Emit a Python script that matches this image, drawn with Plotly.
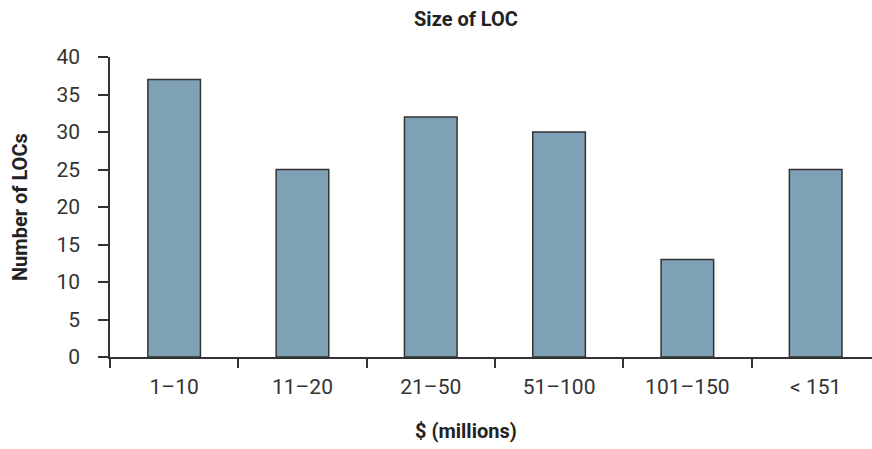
import plotly.graph_objects as go

# Lines of credit grouped by size
size_bands = ["1\u201310", "11\u201320", "21\u201350", "51\u2013100", "101\u2013150", "< 151"]
loc_counts = [37, 25, 32, 30, 13, 25]
y_ticks = [0, 5, 10, 15, 20, 25, 30, 35, 40]

FONT = "Roboto, sans-serif"
INK = "#333333"

fig = go.Figure(
    go.Bar(
        x=size_bands,
        y=loc_counts,
        width=0.41,
        marker=dict(color="#7fa1b5", line=dict(color=INK, width=1.5)),
        hoverinfo="x+y",
    )
)

fig.update_layout(
    width=872,
    height=449,
    margin=dict(l=110, r=0, t=57, b=92),
    plot_bgcolor="white",
    paper_bgcolor="white",
    showlegend=False,
    font=dict(family=FONT, color=INK),
    title=dict(
        text="<b>Size of LOC</b>",
        x=466 / 872,
        xanchor="center",
        y=1 - 19 / 449,
        yanchor="middle",
        font=dict(size=20, family=FONT, color="#222222"),
    ),
)

fig.update_xaxes(
    type="category",
    range=[-0.5, 5.439],
    showline=True,
    linecolor=INK,
    linewidth=1.5,
    ticks="outside",
    tickson="boundaries",
    ticklen=9,
    tickwidth=1.5,
    tickcolor=INK,
    showgrid=False,
    tickfont=dict(size=21, family=FONT, color=INK),
    ticklabelstandoff=10,
)

fig.update_yaxes(
    range=[0, 40],
    tickvals=y_ticks,
    showline=True,
    linecolor=INK,
    linewidth=1.5,
    ticks="outside",
    ticklen=10,
    tickwidth=1.5,
    tickcolor=INK,
    showgrid=False,
    zeroline=False,
    tickfont=dict(size=21, family=FONT, color=INK),
    ticklabelstandoff=14,
)

# Axis titles
fig.add_annotation(
    text="<b>$ (millions)</b>",
    xref="paper", yref="paper",
    x=(466 - 110) / 762, y=(357 - 431) / 300,
    xanchor="center", yanchor="middle",
    showarrow=False,
    font=dict(size=20, family=FONT, color="#222222"),
)
fig.add_annotation(
    text="<b>Number of LOCs</b>",
    xref="paper", yref="paper",
    x=(20 - 110) / 762, y=0.5,
    xanchor="center", yanchor="middle",
    textangle=-90,
    showarrow=False,
    font=dict(size=20, family=FONT, color="#222222"),
)

fig.write_html("out.html")
